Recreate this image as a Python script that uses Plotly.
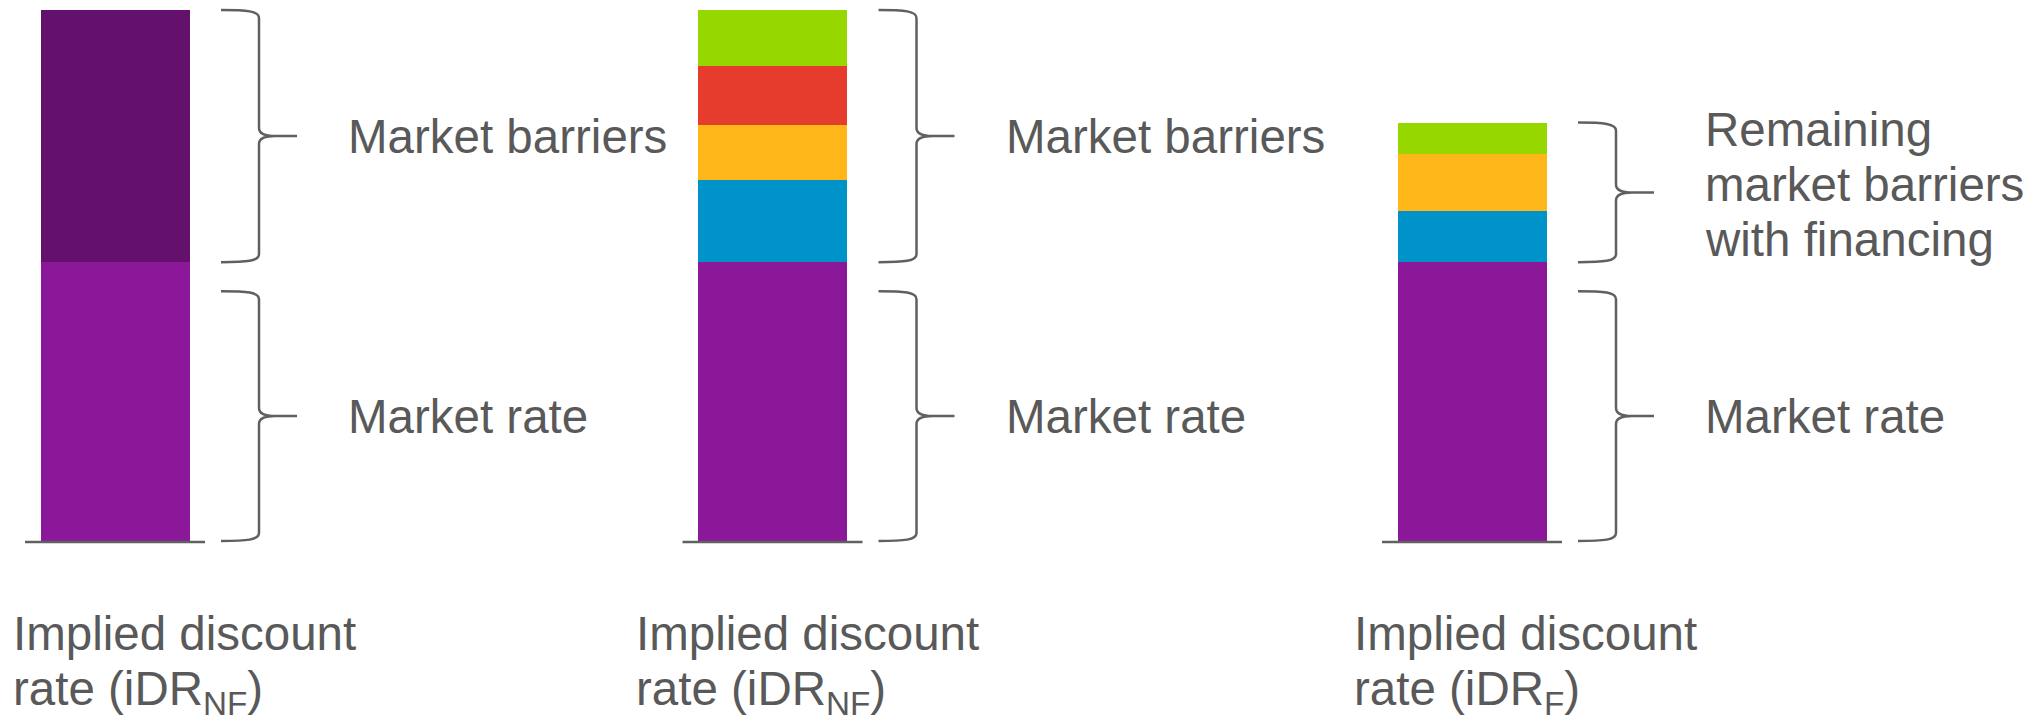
import plotly.graph_objects as go

# ---------------- data ----------------
columns = ["iDR_NF total", "iDR_NF split", "iDR_F"]
label_line1 = ["Implied discount", "Implied discount", "Implied discount"]
label_line2 = ["rate (iDR<sub>NF</sub>)", "rate (iDR<sub>NF</sub>)", "rate (iDR<sub>F</sub>)"]

market_rate = [52.5, 52.5, 52.5]
market_barriers = [47.5, None, None]
barrier_blue = [None, 15.4, 9.6]
barrier_orange = [None, 10.5, 10.7]
barrier_red = [None, 11.1, None]
barrier_green = [None, 10.5, 6.0]

upper_brace_text = [["Market barriers"], ["Market barriers"],
                    ["Remaining", "market barriers", "with financing"]]
lower_brace_text = ["Market rate", "Market rate", "Market rate"]

# ---------------- layout / style ----------------
W, H = 2043, 716
Y0PX = 541.0          # pixel of value 0
PXU = 5.31            # pixels per value unit
Y_RANGE = [-(H - Y0PX) / PXU, Y0PX / PXU]

bar_center_px = [115.5, 773.0, 1472.5]
bar_width_px = 149.0
BAR_W = 0.9
label_left_px = [11, 634, 1352]

colors = {
    "market_rate": "#8A1899",
    "market_barriers": "#64116E",
    "blue": "#0093C9",
    "orange": "#FFB618",
    "red": "#E53C2E",
    "green": "#96D700",
}
TEXT_COLOR = "#595959"
LINE_COLOR = "#606060"
FONT = "Liberation Sans, Arial, sans-serif"
FS = 47.5

series = [
    ("Market rate", market_rate, colors["market_rate"]),
    ("Market barriers", market_barriers, colors["market_barriers"]),
    ("Barrier (blue)", barrier_blue, colors["blue"]),
    ("Barrier (orange)", barrier_orange, colors["orange"]),
    ("Barrier (red)", barrier_red, colors["red"]),
    ("Barrier (green)", barrier_green, colors["green"]),
]

fig = go.Figure()
for name, vals, col in series:
    for i, v in enumerate(vals):
        if v is None:
            continue
        fig.add_trace(go.Bar(
            x=[columns[i]], y=[v], name=name,
            xaxis="x" if i == 0 else f"x{i+1}", yaxis="y",
            width=BAR_W, marker=dict(color=col, line=dict(width=0)),
            hoverinfo="skip", showlegend=False,
        ))

layout_axes = {}
dom_px = bar_width_px / BAR_W
for i, c in enumerate(bar_center_px):
    key = "xaxis" if i == 0 else f"xaxis{i+1}"
    layout_axes[key] = dict(
        domain=[(c - dom_px / 2) / W, (c + dom_px / 2) / W],
        type="category", range=[-0.5, 0.5], visible=False,
        anchor="y", fixedrange=True,
    )


def py2v(py):
    return (Y0PX - py) / PXU


def v2py(v):
    return Y0PX - v * PXU


def pt(px, py):
    return f"{px / W:.6f},{py2v(py):.5f}"


def brace_path(xr, vtop, vbot):
    x0, xv, xt = xr + 31, xr + 69, xr + 107
    pt_, pb = v2py(vtop), v2py(vbot)
    pm = (pt_ + pb) / 2
    p = (f"M {pt(x0, pt_)} C {pt(x0 + 26, pt_)} {pt(xv, pt_ + 1)} {pt(xv, pt_ + 8)} "
         f"L {pt(xv, pm - 8)} C {pt(xv, pm - 2)} {pt(xv + 6, pm)} {pt(xv + 16, pm)} "
         f"L {pt(xt, pm)} M {pt(xv + 16, pm)} "
         f"C {pt(xv + 6, pm)} {pt(xv, pm + 2)} {pt(xv, pm + 8)} "
         f"L {pt(xv, pb - 8)} C {pt(xv, pb - 1)} {pt(x0 + 26, pb)} {pt(x0, pb)}")
    return p, xt, pm


shapes = []
annotations = []
LOWER_GAP = 29 / PXU
line_offsets = {1: [0], 3: [-63, -8, 47]}
TEXT_DX = 49

for i in range(3):
    c = bar_center_px[i]
    left, right = c - bar_width_px / 2, c + bar_width_px / 2
    segs = [s[1][i] for s in series if s[1][i] is not None]
    total = sum(segs)
    mr = market_rate[i]
    # baseline
    shapes.append(dict(type="line", xref="paper", yref="y",
                       x0=(left - 16) / W, x1=(right + 15) / W,
                       y0=py2v(Y0PX + 1), y1=py2v(Y0PX + 1),
                       line=dict(color=LINE_COLOR, width=2.5)))
    # upper brace
    path, xt, pm = brace_path(right, total, mr)
    shapes.append(dict(type="path", xref="paper", yref="y", path=path,
                       line=dict(color=LINE_COLOR, width=2.5)))
    lines = upper_brace_text[i]
    offs = line_offsets[len(lines)]
    for txt, off in zip(lines, offs):
        annotations.append(dict(text=txt, xref="paper", yref="y",
                                x=(xt + TEXT_DX) / W, y=py2v(pm + off),
                                xanchor="left", yanchor="middle", showarrow=False,
                                font=dict(family=FONT, size=FS, color=TEXT_COLOR)))
    # lower brace
    path, xt, pm = brace_path(right, mr - LOWER_GAP, 0)
    shapes.append(dict(type="path", xref="paper", yref="y", path=path,
                       line=dict(color=LINE_COLOR, width=2.5)))
    annotations.append(dict(text=lower_brace_text[i], xref="paper", yref="y",
                            x=(xt + TEXT_DX) / W, y=py2v(pm),
                            xanchor="left", yanchor="middle", showarrow=False,
                            font=dict(family=FONT, size=FS, color=TEXT_COLOR)))
    # category labels
    for txt, top_px in ((label_line1[i], 604.5), (label_line2[i], 659.5)):
        annotations.append(dict(text=txt, xref="paper", yref="paper",
                                x=label_left_px[i] / W, y=1 - top_px / H,
                                xanchor="left", yanchor="top", showarrow=False,
                                font=dict(family=FONT, size=FS, color=TEXT_COLOR)))

fig.update_layout(
    width=W, height=H, template="none",
    margin=dict(l=0, r=0, t=0, b=0, pad=0),
    paper_bgcolor="white", plot_bgcolor="white",
    barmode="stack", bargap=0, showlegend=False,
    yaxis=dict(domain=[0, 1], range=Y_RANGE, visible=False, fixedrange=True),
    shapes=shapes, annotations=annotations,
    **layout_axes,
)

fig.write_html("out.html", config={"displayModeBar": False})
